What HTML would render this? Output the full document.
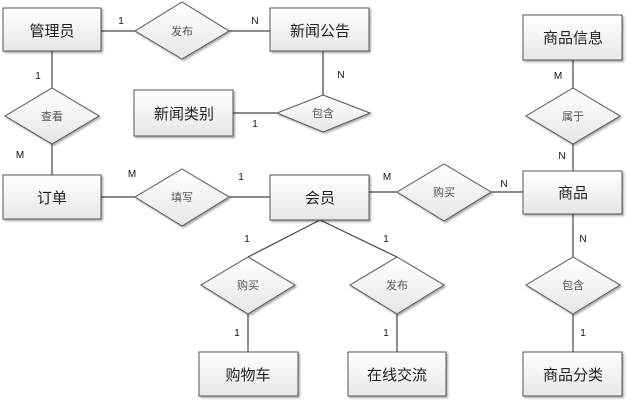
<!DOCTYPE html>
<html><head><meta charset="utf-8"><style>
html,body{margin:0;padding:0;background:#fff;}
svg{display:block;}
.e{font:15px "Liberation Sans","Noto Sans CJK SC",sans-serif;fill:#222;}
.r{font:11px "Liberation Sans","Noto Sans CJK SC",sans-serif;fill:#555;}
.c{font:10px "Liberation Sans",sans-serif;fill:#111;}
</style></head><body>
<svg width="627" height="401" viewBox="0 0 627 401" xmlns="http://www.w3.org/2000/svg">
<defs>
<linearGradient id="g" x1="0" y1="0" x2="0" y2="1"><stop offset="0" stop-color="#ffffff"/><stop offset="1" stop-color="#e6e6e6"/></linearGradient>
<filter id="s" x="-10%" y="-10%" width="130%" height="140%"><feDropShadow dx="1.5" dy="1.5" stdDeviation="1" flood-color="#000" flood-opacity="0.35"/></filter>
</defs>
<g stroke="#444" stroke-width="1.2" fill="none">
<line x1="101" y1="31" x2="135" y2="31"/><line x1="229" y1="31" x2="270" y2="31"/>
<line x1="323" y1="51" x2="323" y2="95"/><line x1="233" y1="113" x2="277" y2="113"/>
<line x1="52" y1="51" x2="52" y2="88"/><line x1="52" y1="144" x2="52" y2="175"/>
<line x1="101" y1="197" x2="135" y2="197"/><line x1="229" y1="197" x2="270" y2="197"/>
<line x1="369" y1="192" x2="397" y2="192"/><line x1="491" y1="192" x2="523" y2="192"/>
<line x1="573" y1="60" x2="573" y2="88"/><line x1="573" y1="144" x2="573" y2="171"/>
<line x1="573" y1="214" x2="573" y2="257"/><line x1="573" y1="314" x2="573" y2="352"/>
<line x1="320" y1="220" x2="248" y2="257"/><line x1="320" y1="220" x2="397" y2="257"/>
<line x1="248" y1="314" x2="248" y2="352"/><line x1="397" y1="314" x2="397" y2="352"/>
</g>
<g fill="url(#g)" stroke="#555" stroke-width="1" filter="url(#s)">
<rect x="3" y="8" width="98" height="43"/>
<rect x="270" y="8" width="99" height="43"/>
<rect x="134" y="90" width="99" height="46"/>
<rect x="3" y="175" width="98" height="44"/>
<rect x="270" y="175" width="99" height="45"/>
<rect x="523" y="171" width="99" height="43"/>
<rect x="523" y="15" width="99" height="45"/>
<rect x="199" y="352" width="99" height="44"/>
<rect x="348" y="352" width="98" height="44"/>
<rect x="523" y="352" width="99" height="44"/>
<polygon points="182,2 229,31 182,59 135,31"/>
<polygon points="52,88 99,116 52,144 5,116"/>
<polygon points="323,95 370,113 323,132 277,113"/>
<polygon points="182,169 229,197 182,226 135,197"/>
<polygon points="444,164 491,192 444,221 397,192"/>
<polygon points="573,88 620,116 573,144 526,116"/>
<polygon points="248,257 295,285 248,314 201,285"/>
<polygon points="397,257 444,285 397,314 350,285"/>
<polygon points="573,257 620,285 573,314 526,285"/>
</g>
<g class="e" text-anchor="middle">
<text x="52" y="36">管理员</text><text x="320" y="36">新闻公告</text>
<text x="184" y="119">新闻类别</text><text x="52" y="203">订单</text>
<text x="320" y="203">会员</text><text x="573" y="198">商品</text>
<text x="573" y="43">商品信息</text><text x="248" y="380">购物车</text>
<text x="397" y="380">在线交流</text><text x="573" y="380">商品分类</text>
</g>
<g class="r" text-anchor="middle">
<text x="182" y="35">发布</text><text x="52" y="120">查看</text><text x="323" y="117">包含</text>
<text x="182" y="201">填写</text><text x="444" y="196">购买</text><text x="573" y="120">属于</text>
<text x="248" y="289">购买</text><text x="397" y="289">发布</text><text x="573" y="289">包含</text>
</g>
<g class="c" text-anchor="middle">
<text x="121" y="24">1</text><text x="255" y="24">N</text><text x="38" y="79">1</text>
<text x="20" y="158">M</text><text x="341" y="78">N</text><text x="255" y="127">1</text>
<text x="132" y="177">M</text><text x="241" y="180">1</text><text x="387" y="180">M</text>
<text x="504" y="187">N</text><text x="558" y="79">M</text><text x="562" y="159">N</text>
<text x="247" y="242">1</text><text x="386" y="242">1</text><text x="583" y="242">N</text>
<text x="237" y="336">1</text><text x="386" y="336">1</text><text x="583" y="336">1</text>
</g>
</svg>
</body></html>
